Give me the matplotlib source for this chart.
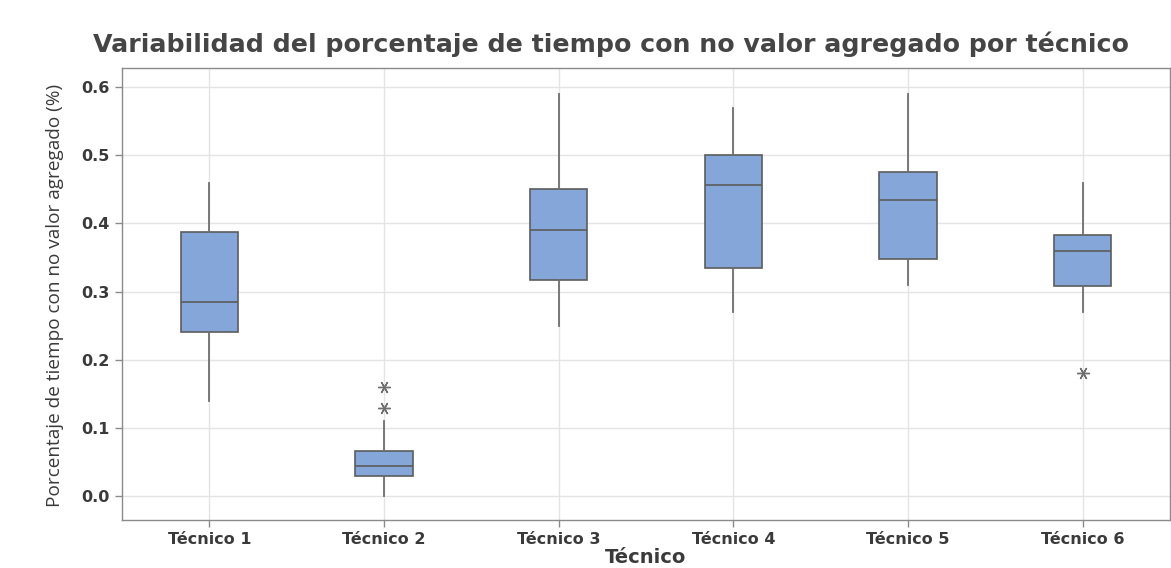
import matplotlib
matplotlib.use("Agg")
import matplotlib.pyplot as plt

# Five-number summaries per technician (fraction of time with no added value)
tecnicos = ["Técnico 1", "Técnico 2", "Técnico 3", "Técnico 4", "Técnico 5", "Técnico 6"]
whisker_low = [0.14, 0.00, 0.25, 0.27, 0.31, 0.27]
q1 = [0.241, 0.029, 0.317, 0.335, 0.348, 0.308]
median = [0.285, 0.044, 0.390, 0.456, 0.435, 0.360]
q3 = [0.388, 0.066, 0.450, 0.500, 0.475, 0.383]
whisker_high = [0.46, 0.11, 0.59, 0.57, 0.59, 0.46]
outliers = [[], [0.13, 0.16], [], [], [], [0.18]]

yticks = [0.0, 0.1, 0.2, 0.3, 0.4, 0.5, 0.6]

stats = []
for i, name in enumerate(tecnicos):
    stats.append(dict(label=name, whislo=whisker_low[i], q1=q1[i], med=median[i],
                      q3=q3[i], whishi=whisker_high[i], fliers=outliers[i]))

W, H = 1171, 568
fig = plt.figure(figsize=(W / 100, H / 100), dpi=100)
ax = fig.add_axes([122 / W, 1 - 520 / H, 1048 / W, 452 / H])

text_c = "#3a3a3a"
grid_c = "#e4e4e4"
ax.set_axisbelow(True)
ax.grid(True, color=grid_c, linewidth=1.0)

box_fill = "#84a6d9"
edge_c = "#5c5c5c"
ax.bxp(stats, positions=range(1, 7), widths=0.33, patch_artist=True,
       showcaps=False,
       boxprops=dict(facecolor=box_fill, edgecolor=edge_c, linewidth=1.2),
       medianprops=dict(color=edge_c, linewidth=1.2),
       whiskerprops=dict(color="#6e6e6e", linewidth=1.3),
       flierprops=dict(marker=(6, 2, 90), markersize=9, markeredgecolor="#6e6e6e",
                       markerfacecolor="none", markeredgewidth=1.0, linestyle="none"))

ax.set_xlim(0.5, 6.5)
ax.set_ylim(-0.035, 0.628)
ax.set_yticks(yticks)
ax.set_yticklabels([f"{v:.1f}" for v in yticks])

for s in ax.spines.values():
    s.set_color("#8a8a8a")
    s.set_linewidth(1.0)

ax.tick_params(axis="both", colors="#8a8a8a", length=5, width=1.0, labelcolor=text_c, pad=4)
for lbl in ax.get_xticklabels() + ax.get_yticklabels():
    lbl.set_fontfamily("DejaVu Sans")
    lbl.set_fontweight("bold")
    lbl.set_fontsize(11.5)

# Title, scaled to span the plot width
title = fig.text(611 / W, 1 - 44 / H,
                 "Variabilidad del porcentaje de tiempo con no valor agregado por técnico",
                 fontfamily="DejaVu Sans", fontweight="bold", fontsize=16, color="#454545",
                 ha="center", va="center")
renderer = fig.canvas.get_renderer()
tw = title.get_window_extent(renderer).width
title.set_fontsize(16 * 1038 / tw)

fig.text(55 / W, 1 - 295 / H, "Porcentaje de tiempo con no valor agregado (%)",
         fontfamily="Open Sans", fontsize=13.7, color=text_c, rotation=90,
         ha="center", va="center")
fig.text(646 / W, 1 - 563 / H, "Técnico", fontfamily="DejaVu Sans",
         fontweight="bold", fontsize=14, color=text_c, ha="center", va="baseline")

fig.savefig("out.png", dpi=100)
